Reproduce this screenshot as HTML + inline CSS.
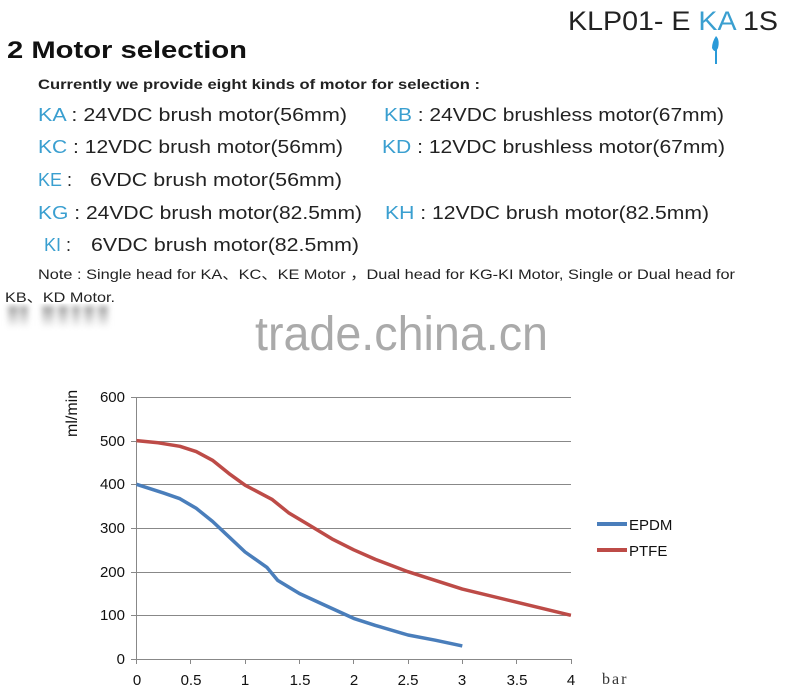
<!DOCTYPE html>
<html><head><meta charset="utf-8"><style>html,body{margin:0;padding:0;background:#fff}svg{display:block}</style></head>
<body>
<svg width="800" height="690" viewBox="0 0 800 690" xmlns="http://www.w3.org/2000/svg" font-family="Liberation Sans, sans-serif">
<defs><linearGradient id="bl" x1="0" y1="0" x2="0" y2="1"><stop offset="0" stop-color="#777"/><stop offset="1" stop-color="#fff"/></linearGradient>
<filter id="bf"><feGaussianBlur stdDeviation="3"/></filter></defs>
<text x="568" y="30" font-size="27" fill="#222" textLength="210" lengthAdjust="spacingAndGlyphs">KLP01- E <tspan fill="#3a9fd0">KA</tspan> 1S</text>
<path d="M716 36 q4 4 2 12 q-3 6 -6 0 q0 -6 4 -12z" fill="#2a9ad8"/><rect x="715" y="48" width="2" height="16" fill="#2a9ad8"/>
<text x="7" y="58" font-size="24" font-weight="bold" fill="#111" textLength="240" lengthAdjust="spacingAndGlyphs">2  Motor selection</text>
<text x="38" y="89" font-size="14" font-weight="bold" fill="#222" textLength="442" lengthAdjust="spacingAndGlyphs">Currently we provide eight kinds of motor for selection :</text>
<g font-size="18" fill="#222">
<text x="38" y="121" textLength="309" lengthAdjust="spacingAndGlyphs"><tspan fill="#3a9fd0">KA</tspan> : 24VDC brush motor(56mm)</text>
<text x="384" y="121" textLength="340" lengthAdjust="spacingAndGlyphs"><tspan fill="#3a9fd0">KB</tspan> : 24VDC brushless motor(67mm)</text>
<text x="38" y="153" textLength="305" lengthAdjust="spacingAndGlyphs"><tspan fill="#3a9fd0">KC</tspan> : 12VDC brush motor(56mm)</text>
<text x="382" y="153" textLength="343" lengthAdjust="spacingAndGlyphs"><tspan fill="#3a9fd0">KD</tspan> : 12VDC brushless motor(67mm)</text>
<text x="38" y="186"><tspan fill="#3a9fd0">KE</tspan> :</text>
<text x="90" y="186" textLength="252" lengthAdjust="spacingAndGlyphs">6VDC brush motor(56mm)</text>
<text x="38" y="219" textLength="324" lengthAdjust="spacingAndGlyphs"><tspan fill="#3a9fd0">KG</tspan> : 24VDC brush motor(82.5mm)</text>
<text x="385" y="219" textLength="324" lengthAdjust="spacingAndGlyphs"><tspan fill="#3a9fd0">KH</tspan> : 12VDC brush motor(82.5mm)</text>
<text x="44" y="251"><tspan fill="#3a9fd0">KI</tspan> :</text>
<text x="91" y="251" textLength="268" lengthAdjust="spacingAndGlyphs">6VDC brush motor(82.5mm)</text>
</g>
<text x="38" y="279" font-size="14" fill="#222" textLength="697" lengthAdjust="spacingAndGlyphs">Note : Single head for KA、KC、KE Motor ，Dual head for KG-KI Motor, Single or Dual head for</text>
<text x="5" y="302" font-size="14" fill="#222" textLength="110" lengthAdjust="spacingAndGlyphs">KB、KD Motor.</text>
<g filter="url(#bf)" opacity="0.7">
<rect x="8" y="306" width="10" height="22" fill="url(#bl)"/><rect x="20" y="306" width="8" height="22" fill="url(#bl)"/>
<rect x="42" y="306" width="12" height="22" fill="url(#bl)"/><rect x="58" y="306" width="10" height="22" fill="url(#bl)"/>
<rect x="72" y="306" width="8" height="22" fill="url(#bl)"/><rect x="84" y="306" width="10" height="22" fill="url(#bl)"/><rect x="98" y="306" width="10" height="22" fill="url(#bl)"/>
</g>
<text x="255" y="350" font-size="48" fill="#aaa" textLength="293" lengthAdjust="spacingAndGlyphs">trade.china.cn</text>
<g stroke="#888" stroke-width="1">
<line x1="136" y1="397.5" x2="571" y2="397.5"/><line x1="136" y1="441.5" x2="571" y2="441.5"/><line x1="136" y1="484.5" x2="571" y2="484.5"/><line x1="136" y1="528.5" x2="571" y2="528.5"/><line x1="136" y1="572.5" x2="571" y2="572.5"/><line x1="136" y1="615.5" x2="571" y2="615.5"/><line x1="136" y1="659.5" x2="571" y2="659.5"/>
<line x1="136.5" y1="397" x2="136.5" y2="664"/>
<line x1="131" y1="397.5" x2="136" y2="397.5"/><line x1="131" y1="441.5" x2="136" y2="441.5"/><line x1="131" y1="484.5" x2="136" y2="484.5"/><line x1="131" y1="528.5" x2="136" y2="528.5"/><line x1="131" y1="572.5" x2="136" y2="572.5"/><line x1="131" y1="615.5" x2="136" y2="615.5"/><line x1="131" y1="659.5" x2="136" y2="659.5"/>
<line x1="190.5" y1="659" x2="190.5" y2="664"/><line x1="245.5" y1="659" x2="245.5" y2="664"/><line x1="299.5" y1="659" x2="299.5" y2="664"/><line x1="353.5" y1="659" x2="353.5" y2="664"/><line x1="408.5" y1="659" x2="408.5" y2="664"/><line x1="462.5" y1="659" x2="462.5" y2="664"/><line x1="516.5" y1="659" x2="516.5" y2="664"/><line x1="571.5" y1="659" x2="571.5" y2="664"/>
</g>
<g font-size="15" fill="#111" text-anchor="end">
<text x="125" y="402">600</text><text x="125" y="446">500</text><text x="125" y="489">400</text><text x="125" y="533">300</text><text x="125" y="577">200</text><text x="125" y="620">100</text><text x="125" y="664">0</text>
</g>
<g font-size="15" fill="#111" text-anchor="middle">
<text x="137" y="685">0</text><text x="191" y="685">0.5</text><text x="245" y="685">1</text><text x="300" y="685">1.5</text><text x="354" y="685">2</text><text x="408" y="685">2.5</text><text x="462" y="685">3</text><text x="517" y="685">3.5</text><text x="571" y="685">4</text>
</g>
<text x="602" y="684" font-size="16" font-family="Liberation Serif, serif" fill="#333" letter-spacing="2">bar</text>
<text transform="translate(77 437) rotate(-90)" font-size="16" fill="#111">ml/min</text>
<polyline fill="none" stroke="#bd4b47" stroke-width="3.5" stroke-linejoin="round" points="136.5,440.6 158.2,442.8 179.9,446.3 196.2,451.6 212.5,460.3 228.8,473.4 245.1,485.2 272.3,499.6 288.5,512.7 310.3,525.8 332,538.9 353.7,549.8 375.4,559.4 408,571.7 462.3,589.1 516.6,602.2 570.9,615.3"/>
<polyline fill="none" stroke="#4a7ebb" stroke-width="3.5" stroke-linejoin="round" points="136.5,484.3 163.7,493.1 179.9,498.7 196.2,508.3 212.5,521.4 228.8,536.7 245.1,552 266.8,567.3 277.7,580.4 299.4,593.5 321.1,603.5 353.7,618.4 375.4,625.4 408,635 435.2,640.2 462.3,645.9"/>
<line x1="597" y1="524" x2="627" y2="524" stroke="#4a7ebb" stroke-width="4"/>
<line x1="597" y1="550" x2="627" y2="550" stroke="#bd4b47" stroke-width="4"/>
<text x="629" y="530" font-size="15" fill="#111">EPDM</text>
<text x="629" y="556" font-size="15" fill="#111">PTFE</text>
</svg>
</body></html>
